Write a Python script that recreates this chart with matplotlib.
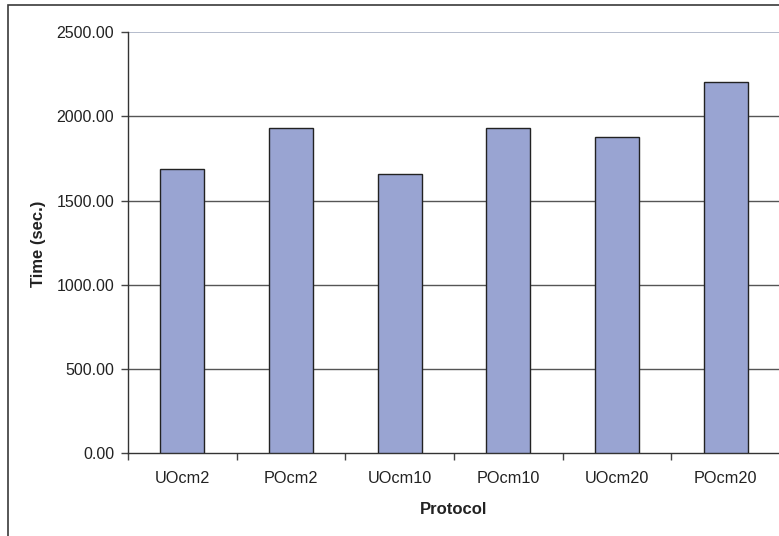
import matplotlib
matplotlib.use("Agg")
import matplotlib.pyplot as plt
from matplotlib.patches import Rectangle

plt.rcParams['font.family'] = ['Liberation Sans', 'DejaVu Sans']

protocols = ["UOcm2", "POcm2", "UOcm10", "POcm10", "UOcm20", "POcm20"]
times = [1686, 1930, 1660, 1930, 1876, 2207]
y_ticks = [0, 500, 1000, 1500, 2000, 2500]
y_tick_labels = [f"{v:.2f}" for v in y_ticks]

W, H = 779, 536
fig = plt.figure(figsize=(W / 100, H / 100), dpi=100)
fig.patch.set_facecolor("white")

# chart frame (continues past the right and bottom edges)
fig.patches.append(Rectangle((8 / W, -0.1), 1.2, 1 - 5 / H + 0.1,
                             transform=fig.transFigure, fill=False,
                             edgecolor="#3a3a3a", linewidth=1.2))

ax = fig.add_axes([128 / W, (H - 453.3) / H, (780 - 128) / W, (453.3 - 32.3) / H])
ax.set_facecolor("white")

x = list(range(len(protocols)))
ax.bar(x, times, width=0.405, color="#99a4d2", edgecolor="#222222",
       linewidth=1.0, zorder=3)

ax.set_xlim(-0.5, len(protocols) - 0.5)
ax.set_ylim(0, 2500)
ax.set_yticks(y_ticks)
ax.set_yticklabels(y_tick_labels, fontsize=11.5, color="#222222")
ax.set_xticks(x)
ax.set_xticklabels(protocols, fontsize=11.7, color="#222222")
ax.set_xticks([i - 0.5 for i in range(len(protocols) + 1)], minor=True)
ax.tick_params(axis="x", which="major", length=0, pad=13)
ax.tick_params(axis="x", which="minor", length=5, width=1, color="#444444", direction="out")
ax.tick_params(axis="y", length=5, width=1, color="#444444", direction="out", pad=5)

for v in y_ticks[1:-1]:
    ax.axhline(v, color="#555555", linewidth=1.0, zorder=1)
ax.axhline(2500, color="#a8b0c4", linewidth=1.2, zorder=1)

for side in ("top", "right"):
    ax.spines[side].set_visible(False)
for side in ("left", "bottom"):
    ax.spines[side].set_color("#333333")
    ax.spines[side].set_linewidth(1.0)

fig.text(39 / W, 1 - 244 / H, "Time (sec.)", rotation=90, ha="center", va="center",
         fontsize=12, fontweight="bold", color="#222222")
fig.text(454 / W, 1 - 510 / H, "Protocol", ha="center", va="center",
         fontsize=12, fontweight="bold", color="#222222")

fig.savefig("out.png", dpi=100)
